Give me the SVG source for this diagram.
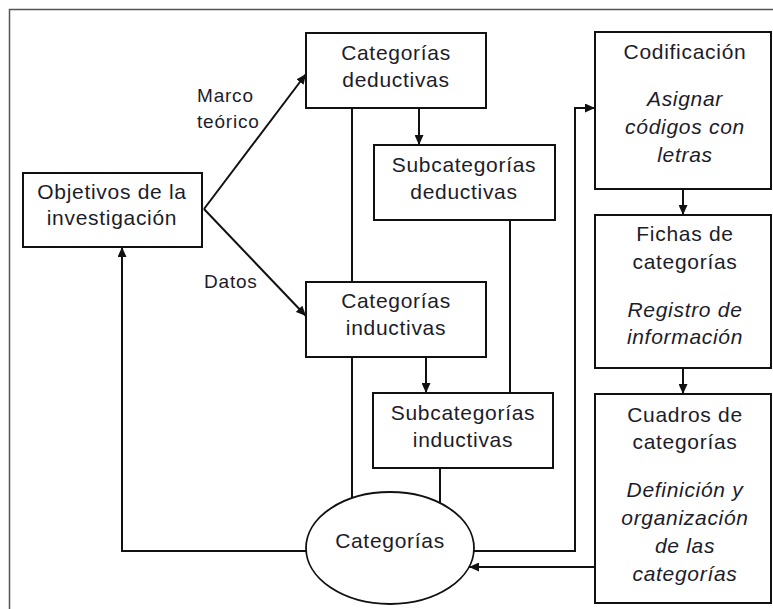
<svg xmlns="http://www.w3.org/2000/svg" width="773" height="609" viewBox="0 0 773 609">
<style>
.box{fill:#fff;stroke:#111;stroke-width:2}
.t{font-family:"Liberation Sans",Arial,sans-serif;font-size:21px;letter-spacing:0.7px;fill:#1c1c2a;text-anchor:middle}
.i{font-style:italic}
.lbl{font-family:"Liberation Sans",Arial,sans-serif;font-size:19px;letter-spacing:0.8px;fill:#1c1c2a}
.c{fill:none;stroke:#111;stroke-width:2}
</style>
<defs>
<marker id="ah" markerWidth="10" markerHeight="9" refX="10" refY="4.5" orient="auto" markerUnits="userSpaceOnUse">
<path d="M0,0 L10,4.5 L0,9 z" fill="#111"/>
</marker>
</defs>
<rect x="0" y="0" width="773" height="609" fill="#fff"/>
<path d="M9.5,609 V9.5 H773" fill="none" stroke="#555" stroke-width="1.5"/>

<g id="connectors">
<line class="c" x1="204" y1="209" x2="306" y2="74" marker-end="url(#ah)"/>
<line class="c" x1="204" y1="209" x2="306" y2="316" marker-end="url(#ah)"/>
<line class="c" x1="419" y1="108" x2="419" y2="145" marker-end="url(#ah)"/>
<line class="c" x1="426" y1="357" x2="426" y2="393" marker-end="url(#ah)"/>
<line class="c" x1="352" y1="108" x2="352" y2="282"/>
<line class="c" x1="352" y1="357" x2="352" y2="498"/>
<line class="c" x1="510" y1="220" x2="510" y2="393"/>
<line class="c" x1="440" y1="468" x2="440" y2="503"/>
<polyline class="c" points="474,551 575,551 575,108 595,108" marker-end="url(#ah)"/>
<line class="c" x1="595" y1="567" x2="469" y2="567" marker-end="url(#ah)"/>
<polyline class="c" points="306,551 122,551 122,247" marker-end="url(#ah)"/>
<line class="c" x1="683" y1="189" x2="683" y2="215" marker-end="url(#ah)"/>
<line class="c" x1="683" y1="368" x2="683" y2="394" marker-end="url(#ah)"/>
<text class="lbl" x="197" y="102">Marco</text>
<text class="lbl" x="197" y="128">teórico</text>
<text class="lbl" x="204" y="288">Datos</text>
</g>

<g id="objetivos">
<rect class="box" x="23" y="173" width="179" height="74"/>
<text class="t" x="112" y="199">Objetivos de la</text>
<text class="t" x="112" y="225">investigación</text>
</g>

<g id="cat-deductivas">
<rect class="box" x="306" y="33" width="180" height="75"/>
<text class="t" x="396" y="60">Categorías</text>
<text class="t" x="396" y="87">deductivas</text>
</g>

<g id="subcat-deductivas">
<rect class="box" x="374" y="145" width="181" height="75"/>
<text class="t" x="464" y="172">Subcategorías</text>
<text class="t" x="464" y="199">deductivas</text>
</g>

<g id="cat-inductivas">
<rect class="box" x="306" y="282" width="180" height="75"/>
<text class="t" x="396" y="308">Categorías</text>
<text class="t" x="396" y="335">inductivas</text>
</g>

<g id="subcat-inductivas">
<rect class="box" x="373" y="393" width="180" height="75"/>
<text class="t" x="463" y="420">Subcategorías</text>
<text class="t" x="463" y="447">inductivas</text>
</g>

<g id="categorias">
<ellipse cx="390" cy="548" rx="84" ry="56" fill="#fff" stroke="#111" stroke-width="1.8"/>
<text class="t" x="390" y="548">Categorías</text>
</g>

<g id="codificacion">
<rect class="box" x="595" y="32" width="176" height="157"/>
<text class="t" x="685" y="59">Codificación</text>
<text class="t i" x="685" y="106">Asignar</text>
<text class="t i" x="685" y="134">códigos con</text>
<text class="t i" x="685" y="162">letras</text>
</g>

<g id="fichas">
<rect class="box" x="595" y="215" width="176" height="153"/>
<text class="t" x="685" y="241">Fichas de</text>
<text class="t" x="685" y="269">categorías</text>
<text class="t i" x="685" y="317">Registro de</text>
<text class="t i" x="685" y="344">información</text>
</g>

<g id="cuadros">
<rect class="box" x="595" y="394" width="176" height="209"/>
<text class="t" x="685" y="422">Cuadros de</text>
<text class="t" x="685" y="449">categorías</text>
<text class="t i" x="685" y="497">Definición y</text>
<text class="t i" x="685" y="525">organización</text>
<text class="t i" x="685" y="553">de las</text>
<text class="t i" x="685" y="581">categorías</text>
</g>
</svg>
